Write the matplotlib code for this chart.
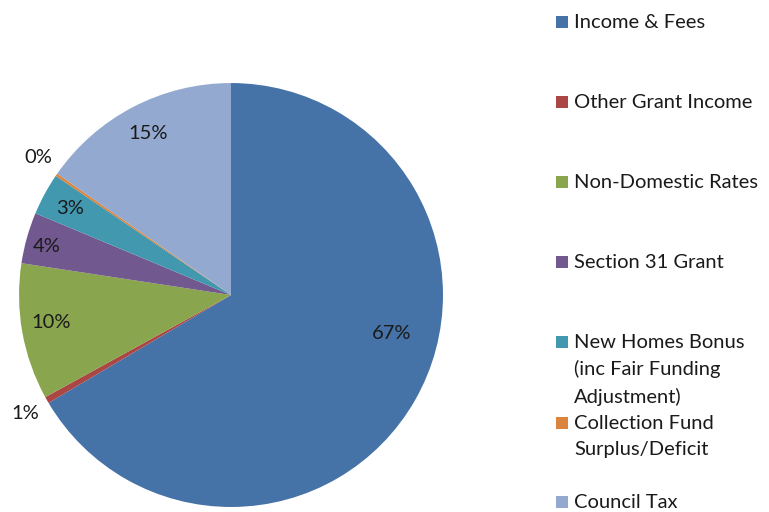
import numpy as np
import matplotlib
matplotlib.use("Agg")
import matplotlib.pyplot as plt
from matplotlib.patches import Rectangle

# data (shares in %)
categories = ["Income & Fees", "Other Grant Income", "Non-Domestic Rates",
              "Section 31 Grant", "New Homes Bonus\n(inc Fair Funding\nAdjustment)",
              "Collection Fund\nSurplus/Deficit", "Council Tax"]
shares = [66.5, 0.5, 10.4, 3.9, 3.2, 0.2, 15.3]
pct_labels = ["67%", "1%", "10%", "4%", "3%", "0%", "15%"]
colors = ["#4572A7", "#AA4643", "#89A54E", "#71588F", "#4198AF", "#DB843D", "#93A9CF"]

# label placement relative to the pie (radius units), Excel "best fit" style
label_xy = [(0.76, -0.18), (-0.97, -0.56), (-0.85, -0.13), (-0.87, 0.23),
            (-0.76, 0.41), (-0.91, 0.65), (-0.39, 0.76)]

plt.rcParams['font.family'] = ['Lato', 'DejaVu Sans']

fig = plt.figure(figsize=(7.69, 5.12), dpi=100)
ax = fig.add_axes([0.0247, 0.0098, 0.5514, 0.828])

wedges, _ = ax.pie(shares, colors=colors, startangle=90, counterclock=False,
                   radius=1.0, wedgeprops=dict(linewidth=0))
for (x, y), lab in zip(label_xy, pct_labels):
    ax.text(x, y, lab, ha="center", va="center", fontsize=14.5, color="#1a1a1a")
ax.set_xlim(-1, 1)
ax.set_ylim(-1, 1)
ax.set_aspect("equal")
ax.axis("off")

# legend drawn by hand to follow Excel's spacing
legend_y = [22, 102, 182, 262, 342, 423, 502]
W, H = 769, 512
for name, col, yp in zip(categories, colors, legend_y):
    fig.patches.append(Rectangle((556 / W, 1 - (yp + 6) / H), 12 / W, 12 / H,
                                 transform=fig.transFigure, facecolor=col,
                                 edgecolor="none"))
    fig.text(574 / W, 1 - (yp - 8) / H, name, ha="left", va="top",
             fontsize=14.5, color="#1a1a1a", linespacing=1.62)

fig.savefig("out.png", dpi=100)
